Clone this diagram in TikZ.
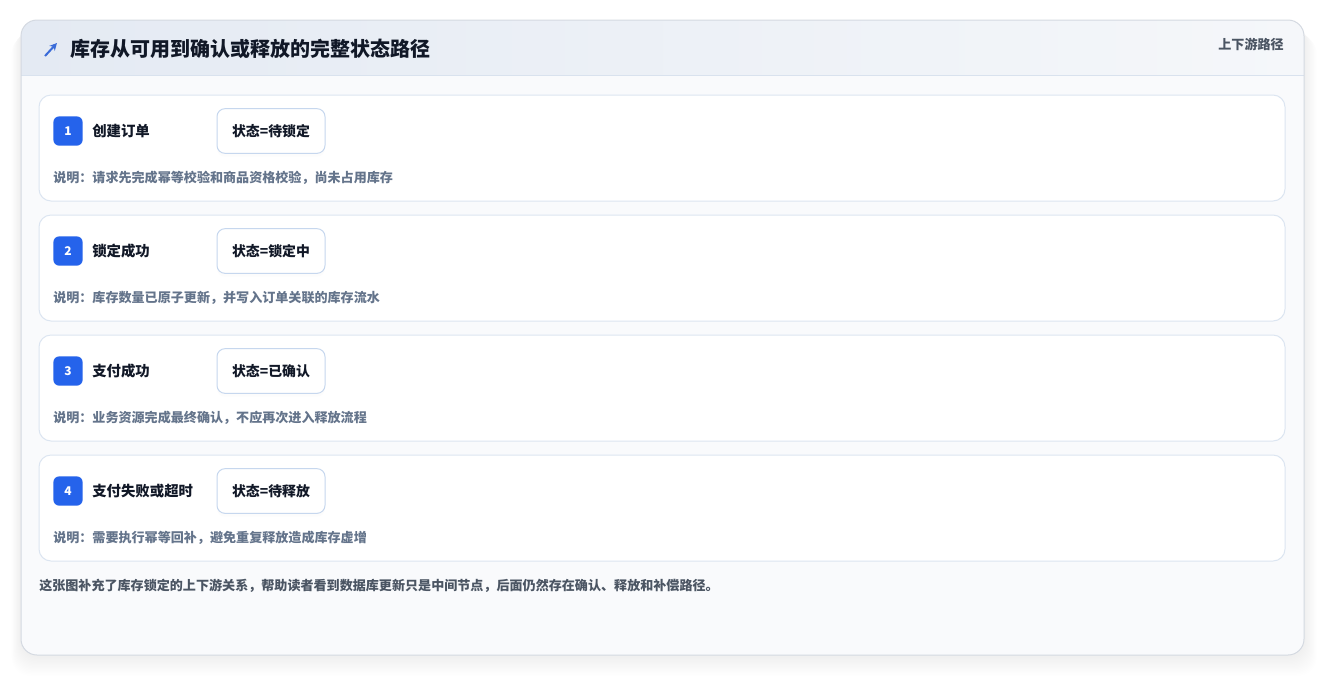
\documentclass[tikz,border=0pt]{standalone}
\usepackage{fontspec}
\setmainfont{Noto Sans CJK SC}
\usetikzlibrary{positioning,shadows,arrows.meta}

\definecolor{cardline}{HTML}{D4D9E1}
\definecolor{hdrleft}{HTML}{E4EAF3}
\definecolor{hdrright}{HTML}{F5F7FA}
\definecolor{hdrline}{HTML}{D9E2EE}
\definecolor{bodybg}{HTML}{F9FAFC}
\definecolor{rowline}{HTML}{DCE5F1}
\definecolor{pillline}{HTML}{C6D7EE}
\definecolor{badgeblue}{HTML}{2563EB}
\definecolor{iconblue}{HTML}{3A6BD8}
\definecolor{titlecol}{HTML}{111827}
\definecolor{desccol}{HTML}{64748B}
\definecolor{footcol}{HTML}{4B5563}

\tikzset{
  rowbox/.style={draw=rowline, fill=white, line width=0.75pt, rounded corners=9pt},
  badge/.style={fill=badgeblue, rounded corners=4.5pt, minimum size=22pt, inner sep=0pt,
    text=white, font=\bfseries\fontsize{9}{9}\selectfont},
  steplabel/.style={anchor=west, inner sep=0pt, text=titlecol, font=\bfseries\fontsize{10.8}{10.8}\selectfont},
  pill/.style={draw=pillline, fill=white, line width=0.75pt, rounded corners=6pt,
    minimum width=81pt, minimum height=33.5pt, inner sep=0pt, text=titlecol,
    font=\bfseries\fontsize{10.4}{10.4}\selectfont,
    drop shadow={opacity=0.025, shadow xshift=0pt, shadow yshift=-2.5pt}},
  desc/.style={anchor=west, inner sep=0pt, text=desccol, font=\bfseries\fontsize{9.8}{9.8}\selectfont},
}

\begin{document}
\begin{tikzpicture}[x=0.75pt, y=-0.75pt]
\useasboundingbox (0,0) rectangle (1325,676);

% soft shadow under the card
\foreach \i in {1,...,16}
  \fill[black, opacity=0.005, rounded corners=14pt] (21-\i*0.6,22+\i*0.8) rectangle (1304+\i*0.8,655+\i*1.3);

% card
\fill[bodybg, rounded corners=12pt] (21,20) rectangle (1304,655);
\begin{scope}
  \clip[rounded corners=12pt] (21,20) rectangle (1304,655);
  \shade[left color=hdrleft, right color=hdrright] (21,20) rectangle (1304,75);
\end{scope}
\draw[hdrline, line width=0.75pt] (21,75) -- (1304,75);
\draw[cardline, line width=0.75pt, rounded corners=12pt] (21,20) rectangle (1304,655);

% header
\coordinate (icontail) at (45,56);
\coordinate (iconhead) at (57,43);
\draw[iconblue, line width=1.5pt, -{Stealth[length=5.5pt, width=5.5pt]}] (icontail) -- (iconhead);
\node[anchor=west, inner sep=0pt, text=titlecol, font=\bfseries\fontsize{15}{15}\selectfont] (title) at (70,49) {库存从可用到确认或释放的完整状态路径};
\node[anchor=east, inner sep=0pt, text=footcol, font=\bfseries\fontsize{9.8}{9.8}\selectfont] (tag) at (1284,44) {上下游路径};

% step 1
\draw[rowbox] (39,95) rectangle (1285,201);
\node[badge] (n1) at (68,131) {1};
\node[steplabel] (s1) at (92,131) {创建订单};
\node[pill] (p1) at (271,131) {状态=待锁定};
\node[desc] (d1) at (53,178) {说明：请求先完成幂等校验和商品资格校验，尚未占用库存};

% step 2
\draw[rowbox] (39,215) rectangle (1285,321);
\node[badge] (n2) at (68,251) {2};
\node[steplabel] (s2) at (92,251) {锁定成功};
\node[pill] (p2) at (271,251) {状态=锁定中};
\node[desc] (d2) at (53,298) {说明：库存数量已原子更新，并写入订单关联的库存流水};

% step 3
\draw[rowbox] (39,335) rectangle (1285,441);
\node[badge] (n3) at (68,371) {3};
\node[steplabel] (s3) at (92,371) {支付成功};
\node[pill] (p3) at (271,371) {状态=已确认};
\node[desc] (d3) at (53,418) {说明：业务资源完成最终确认，不应再次进入释放流程};

% step 4
\draw[rowbox] (39,455) rectangle (1285,561);
\node[badge] (n4) at (68,491) {4};
\node[steplabel] (s4) at (92,491) {支付失败或超时};
\node[pill] (p4) at (271,491) {状态=待释放};
\node[desc] (d4) at (53,538) {说明：需要执行幂等回补，避免重复释放造成库存虚增};

% footer note
\node[anchor=west, inner sep=0pt, text=footcol, font=\bfseries\fontsize{9.8}{9.8}\selectfont] (note) at (39,586) {这张图补充了库存锁定的上下游关系，帮助读者看到数据库更新只是中间节点，后面仍然存在确认、释放和补偿路径。};
\end{tikzpicture}
\end{document}
